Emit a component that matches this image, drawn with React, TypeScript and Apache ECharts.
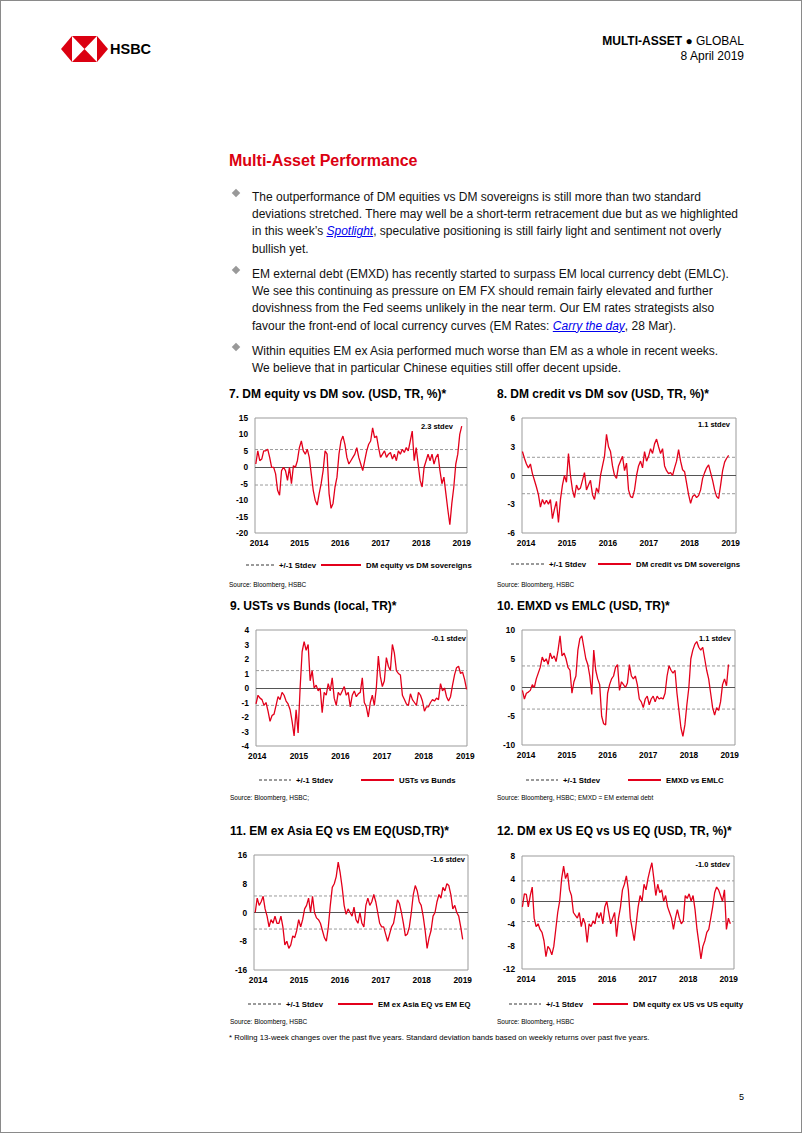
import React, { useEffect, useRef } from 'react';
import * as echarts from 'echarts';

// ---------------- data ----------------
const yearTicks = [2014, 2015, 2016, 2017, 2018, 2019];

const dmEquityVsSov = [1, 5, 2, 2.5, 5, 5, 5.5, 3, 0, 0, -2, -7, -8.5, -1, 0, -1, -4, 0, -5, 0.5, 0, 2, 6, 8, 5, 4, 5.5, 3, -2, -7, -10, -11.5, -8, -5, -1, 5, 4, -8, -12.5, -11, -6, -3, 4, 8, 9.5, 7, 3, 1, 2, 3, 4, 6, 3, 1, -1, 2, 5, 7, 8, 12, 9, 9.5, 6, 3, 4, 5, 3, 4, 4.5, 2.5, 4, 2, 5, 4, 5.5, 4.5, 6, 5, 8, 11, 2, 6, 1, -4, -6, 0, 2, 4, 2, 4, 1, 3, 4, -1, -5, -3, -8, -13, -17.5, -11, -6, 1, 4, 10, 12.5];
const dmCreditVsSov = [2.5, 1.8, 1.2, 0.8, 1.2, 0.2, -0.5, -1.2, -2, -3.3, -2.5, -3, -2.6, -3, -2.5, -4.5, -3.5, -2.7, -4.9, -2.5, -1, 0, -0.7, 2.3, 0, -1.5, -2.3, -1, -1.5, -1.3, -0.5, 0.3, -1.5, -1, -0.5, -2, -2.5, -1.3, -1.8, 0, 1, 2, 4.3, 3, 2.5, 1, 0, -0.3, 1, 1.5, 2, 0.5, 1.3, -1.5, -2.2, -2.3, -1.5, 0, 1, 1.5, 0.8, 2.5, 1.5, 2, 2.8, 2.3, 3.3, 3.8, 3, 2.3, 2.8, 1, 0.5, 0.2, 0.3, 0, 0.8, 1.5, 2.7, 1.5, 0.6, 0.4, -0.8, -2, -2.9, -2.2, -2, -2.3, -2.1, -1.5, -0.3, 0.3, 0.8, 1.1, 0.3, -0.5, -1.5, -2.2, -2.4, -1, 0.5, 1.4, 1.8, 2.1];
const ustsVsBunds = [-1.1, -0.5, -0.7, -0.8, -1.2, -1.0, -1.6, -2.3, -1.9, -1.8, -1.2, -0.6, -0.8, -0.3, -0.5, -0.9, -1.1, -1.5, -2.3, -3.3, -1.5, -3.1, 0, 2.5, 3.2, 2.6, 3.0, 0.5, 1.2, 0, 0.2, -0.2, 0, -1.7, -0.3, -0.5, 0.3, -0.2, 0.7, -0.7, -1.2, -0.3, -0.5, -0.2, 0.1, -0.5, -0.3, -1.3, -0.5, -0.2, -0.6, -0.4, -0.3, 0.7, -1.0, -1.3, -2.0, -1.0, -0.5, -1.2, 0, 2.2, 0.8, 0.1, 0.5, 2.1, 1.5, 1.2, 3.0, 2.4, 1.2, 1.0, 0.9, -0.5, -0.8, -1.1, -1.2, -0.4, -0.8, -1.0, -1.2, -0.3, -0.5, -0.9, -1.6, -1.3, -1.3, -1.0, -0.8, -0.9, -0.7, -0.8, 0.3, -0.2, 0, -0.6, -0.9, -0.6, 0.2, 0.9, 1.4, 1.5, 1.0, 1.1, 0.6, -0.1];
const emxdVsEmlc = [-0.5, -2, -1, -0.8, -0.5, 0.5, 0, 1.5, 2.5, 3.5, 5.3, 4.5, 5, 4, 6, 5, 5.5, 4.5, 6.5, 9, 5.5, 6, 5, 3.5, 3, -1, 1, 2, 6.5, 8.5, 9, 7, 5, 4, 2, -1.2, 6.5, 3, 1.5, 0.5, -5, -6.3, -6.5, -1, 0.5, 1.5, 2, 3.5, 4, -0.5, 1, 0.5, 0, 0.8, 4, 2, 1.5, 2, 0.5, -2, -2.5, -3.5, -2, -1.5, -3, -2, -1.5, -2.5, -1.5, -2, -1.8, -2, -1, 2, 3.8, 3, 2.5, 3, -1, -4, -7, -8.5, -6.5, -3, 0, 5, 6.5, 7.5, 8, 7, 6.5, 7, 5, 3, 1.5, -1, -3.5, -4.8, -3.5, -4, -2.5, 0.5, 1.5, 0.3, 4];
const emExAsiaVsEm = [0, 4, 2, 3, 4.5, 1, -1, -4, -2, -3, -1, -3, -3, -1, -4, -9, -8, -10, -9, -6.5, -7, -5, -2, -4, -2, 1, 2, 4, 0, 4.5, 0, -1.5, -2, -3, -5, -7, -8, -4, 2, 7, 8, 10, 14, 11, 7, 2, -0.5, 1, 0, -1, 1.5, -2, -3, 0, -3, -4, 2, 4, 2, 3, 5, 3, 0, -3, -4, -4, -6, -8, -6, -4, -3, 0, 3.5, 2.5, 0, -3, -6.5, -6, -4, 0, 5, 7.5, 6, 3, 2, -1, -5, -10, -7, -5, -1, 0, 3, 5, 4, 7, 6, 8, 7.5, 5, 1, 2, 0, -1, -4, -7.5];
const dmExUsVsUs = [-1, 1.3, 1.2, -1, 1, 2.5, -3, -4.5, -4, -5, -5.5, -7, -9.8, -8, -8.5, -9.5, -8, -5, -2, 0, 4, 6.2, 4, 5, 2, 1, -2, -2.5, -3, -2, -4.5, -3, -4, -7.3, -4, -4.5, -3.5, -4, -2, -3, -2, -4, -1, 0, -2, -4, -3, -2, -6.3, -3, -1, 2, 3, 4.5, 2, -3, -5, -7, -4, -1, 1, 0, 3, 2, 4, 5.5, 6.8, 4, 1, 3, 1.5, 2, 0, 1, -1, -2, -3, -5, -3, -1.5, -3, -4, -3.5, 1, 0.5, 1.3, 0, 1, -1.5, -5, -7.5, -10.2, -8, -7, -5.5, -5, -3, -1, 1.5, 2.5, 2, 1, 0, 2, -5, -3, -4];

const chartTitles = [
  '7. DM equity vs DM sov. (USD, TR, %)*',
  '8. DM credit vs DM sov (USD, TR, %)*',
  '9. USTs vs Bunds (local, TR)*',
  '10. EMXD vs EMLC (USD, TR)*',
  '11. EM ex Asia EQ vs EM EQ(USD,TR)*',
  '12. DM ex US EQ vs US EQ (USD, TR, %)*',
];
const seriesNames = [
  'DM equity vs DM sovereigns',
  'DM credit vs DM sovereigns',
  'USTs vs Bunds',
  'EMXD vs EMLC',
  'EM ex Asia EQ vs EM EQ',
  'DM equity ex US vs US equity',
];
const seriesValues = [dmEquityVsSov, dmCreditVsSov, ustsVsBunds, emxdVsEmlc, emExAsiaVsEm, dmExUsVsUs];
const stdevBands = [5.4, 1.9, 1.2, 3.75, 4.6, 3.6];
const stdevNotes = ['2.3 stdev', '1.1 stdev', '-0.1 stdev', '1.1 stdev', '-1.6 stdev', '-1.0 stdev'];
const sourceNotes = [
  'Source: Bloomberg, HSBC',
  'Source: Bloomberg, HSBC',
  'Source: Bloomberg, HSBC;',
  'Source: Bloomberg, HSBC; EMXD = EM external debt',
  'Source: Bloomberg, HSBC',
  'Source: Bloomberg, HSBC',
];
const yScales = [
  [-20, 15, 5],
  [-6, 6, 3],
  [-4, 4, 1],
  [-10, 10, 5],
  [-16, 16, 8],
  [-12, 8, 4],
];
const dataSpans = [
  [2013.92, 2019.0],
  [2013.91, 2018.95],
  [2013.97, 2019.03],
  [2013.91, 2018.97],
  [2013.93, 2019.0],
  [2013.91, 2019.04],
];
const stdevLabel = '+/-1 Stdev';

// ---------------- layout (page pixels) ----------------
const layouts = [
  { grid: [255, 418, 212, 115], x: [2013.9, 2019.13], title: [229, 395], leg: [245, 28, 320, 40, 566], src: [229, 584], note: [453, 426] },
  { grid: [522, 418, 214, 115], x: [2013.9, 2019.13], title: [497, 395], leg: [510, 33, 597, 33, 565], src: [497, 584], note: [730, 424] },
  { grid: [256, 630, 211, 116], x: [2013.97, 2019.04], title: [230, 607], leg: [258, 32, 360, 33, 781], src: [230, 797], note: [466, 638] },
  { grid: [522, 630, 213, 115], x: [2013.9, 2019.13], title: [497, 607], leg: [525, 32, 627, 33, 781], src: [497, 797], note: [731, 638] },
  { grid: [254, 855, 214, 115], x: [2013.9, 2019.13], title: [230, 832], leg: [247, 33, 337, 35, 1005], src: [230, 1021], note: [465, 859] },
  { grid: [522, 856, 212, 113], x: [2013.9, 2019.13], title: [497, 832], leg: [508, 32, 592, 35, 1005], src: [497, 1021], note: [730, 864] },
];

const FONT = "Arial,'Liberation Sans',Helvetica,sans-serif";
const RED = '#e3001b';
const HSBC_RED = '#db0011';

function buildOption() {
  const grid: any[] = [];
  const xAxis: any[] = [];
  const yAxis: any[] = [];
  const series: any[] = [];
  const legend: any[] = [];
  const title: any[] = [];
  const graphic: any[] = [];

  layouts.forEach((L, i) => {
    const [yMin, yMax, yInt] = yScales[i];
    grid.push({ left: L.grid[0], top: L.grid[1], width: L.grid[2], height: L.grid[3], show: true, borderColor: '#9b9b9b', borderWidth: 1, backgroundColor: 'transparent', containLabel: false });
    xAxis.push({
      type: 'value', gridIndex: i, min: L.x[0], max: L.x[1],
      axisLine: { show: false }, axisTick: { show: false }, splitLine: { show: false },
      axisLabel: { customValues: yearTicks, formatter: (v: number) => String(Math.round(v)), fontFamily: FONT, fontWeight: 'bold', fontSize: 8.3, color: '#000', margin: 6 },
    });
    yAxis.push({
      type: 'value', gridIndex: i, min: yMin, max: yMax, interval: yInt,
      axisLine: { show: false }, axisTick: { show: false }, splitLine: { show: false },
      axisLabel: { fontFamily: FONT, fontWeight: 'bold', fontSize: 8.3, color: '#000', margin: 7 },
    });
    const vals = seriesValues[i];
    const [t0, t1] = dataSpans[i];
    const pts = vals.map((v, k) => [t0 + (k * (t1 - t0)) / (vals.length - 1), v]);
    const sd = stdevBands[i];
    [sd, -sd].forEach((b) => {
      series.push({
        type: 'line', name: stdevLabel, xAxisIndex: i, yAxisIndex: i,
        data: [[L.x[0], b], [L.x[1], b]], symbol: 'none', silent: true, z: 2,
        lineStyle: { color: '#9a9a9a', width: 1, type: [3, 2] }, itemStyle: { color: '#9a9a9a' },
      });
    });
    series.push({
      type: 'line', name: seriesNames[i], xAxisIndex: i, yAxisIndex: i, data: pts,
      symbol: 'none', z: 4, lineStyle: { color: RED, width: 1.3 }, itemStyle: { color: RED },
      markLine: { silent: true, symbol: 'none', label: { show: false }, lineStyle: { color: '#555', width: 1, type: 'solid' }, data: [{ yAxis: 0 }], z: 3 },
    });
    const legText = { fontFamily: FONT, fontWeight: 'bold', fontSize: 7.8, color: '#000' };
    const legCommon = { itemHeight: 8, padding: 0, selectedMode: false, textStyle: legText, itemStyle: { opacity: 0 } };
    legend.push({ ...legCommon, data: [stdevLabel], left: L.leg[0], top: L.leg[4] - 5, itemWidth: L.leg[1] });
    legend.push({ ...legCommon, data: [seriesNames[i]], left: L.leg[2], top: L.leg[4] - 5, itemWidth: L.leg[3] });
    title.push({ text: chartTitles[i], left: L.title[0], top: L.title[1] - 7, padding: 0, textStyle: { fontFamily: FONT, fontWeight: 'bold', fontSize: 12, color: '#000' } });
    graphic.push({ type: 'text', x: L.src[0], y: L.src[1], style: { text: sourceNotes[i], fontFamily: FONT, fontSize: 6.5, fill: '#000', align: 'left', verticalAlign: 'middle', textAlign: 'left', textVerticalAlign: 'middle' } });
    graphic.push({ type: 'text', x: L.note[0], y: L.note[1], z: 10, style: { text: stdevNotes[i], fontFamily: FONT, fontWeight: 'bold', fontSize: 7.5, fill: '#000', align: 'right', verticalAlign: 'middle', textAlign: 'right', textVerticalAlign: 'middle' } });
  });

  // HSBC hexagon logo
  graphic.push({ type: 'polygon', shape: { points: [[61, 49], [72, 36], [97, 36], [108, 49], [97, 62], [72, 62]] }, style: { fill: HSBC_RED } });
  graphic.push({ type: 'polygon', shape: { points: [[72, 36], [72, 62], [84.5, 49]] }, style: { fill: '#fff' } });
  graphic.push({ type: 'polygon', shape: { points: [[97, 36], [97, 62], [84.5, 49]] }, style: { fill: '#fff' } });

  return { animation: false, backgroundColor: 'transparent', grid, xAxis, yAxis, series, legend, title, graphic };
}

function linkStyle(): React.CSSProperties {
  return { color: '#0000ee', fontStyle: 'italic', textDecoration: 'underline' };
}

const bullets = [
  { top: 188.5, diamond: 193, lines: [
    <>The outperformance of DM equities vs DM sovereigns is still more than two standard</>,
    <>deviations stretched. There may well be a short-term retracement due but as we highlighted</>,
    <>in this week’s <a style={linkStyle()}>Spotlight</a>, speculative positioning is still fairly light and sentiment not overly</>,
    <>bullish yet.</>,
  ] },
  { top: 265.5, diamond: 270, lines: [
    <>EM external debt (EMXD) has recently started to surpass EM local currency debt (EMLC).</>,
    <>We see this continuing as pressure on EM FX should remain fairly elevated and further</>,
    <>dovishness from the Fed seems unlikely in the near term. Our EM rates strategists also</>,
    <>favour the front-end of local currency curves (EM Rates: <a style={linkStyle()}>Carry the day</a>, 28 Mar).</>,
  ] },
  { top: 342.5, diamond: 347, lines: [
    <>Within equities EM ex Asia performed much worse than EM as a whole in recent weeks.</>,
    <>We believe that in particular Chinese equities still offer decent upside.</>,
  ] },
];

export default function App() {
  const ref = useRef<HTMLDivElement>(null);
  useEffect(() => {
    const chart = echarts.init(ref.current as HTMLDivElement, null, { renderer: 'svg' });
    chart.setOption(buildOption() as any);
    return () => chart.dispose();
  }, []);

  return (
    <div style={{ position: 'absolute', left: 0, top: 0, width: 802, height: 1133, background: '#fff', overflow: 'hidden', fontFamily: FONT, color: '#000' }}>
      <div ref={ref} style={{ position: 'absolute', left: 0, top: 0, width: 802, height: 1133 }} />
      <div style={{ position: 'absolute', left: 0, top: 0, width: 802, height: 1133, border: '1px solid #8a8a8a', boxSizing: 'border-box', pointerEvents: 'none' }} />
      <div style={{ position: 'absolute', left: 110, top: 40, fontSize: 14.5, fontWeight: 'bold', lineHeight: '18px' }}>HSBC</div>
      <div style={{ position: 'absolute', right: 58, top: 33.5, fontSize: 12, lineHeight: '15px', textAlign: 'right', whiteSpace: 'nowrap' }}>
        <div><b>MULTI-ASSET</b> ● GLOBAL</div>
        <div>8 April 2019</div>
      </div>
      <div style={{ position: 'absolute', left: 229, top: 151.5, fontSize: 16, fontWeight: 'bold', lineHeight: '18px', color: HSBC_RED, whiteSpace: 'nowrap' }}>Multi-Asset Performance</div>
      {bullets.map((b, i) => (
        <React.Fragment key={i}>
          <div style={{ position: 'absolute', left: 233, top: b.diamond - 3, width: 6, height: 6, background: '#999', transform: 'rotate(45deg)' }} />
          <div style={{ position: 'absolute', left: 252, top: b.top, fontSize: 12, lineHeight: '17.4px', whiteSpace: 'nowrap', color: '#111' }}>
            {b.lines.map((l, k) => (<div key={k}>{l}</div>))}
          </div>
        </React.Fragment>
      ))}
      <div style={{ position: 'absolute', left: 229, top: 1032, fontSize: 7.7, lineHeight: '11px', whiteSpace: 'nowrap' }}>* Rolling 13-week changes over the past five years. Standard deviation bands based on weekly returns over past five years.</div>
      <div style={{ position: 'absolute', left: 739, top: 1091, fontSize: 9, lineHeight: '12px' }}>5</div>
    </div>
  );
}
